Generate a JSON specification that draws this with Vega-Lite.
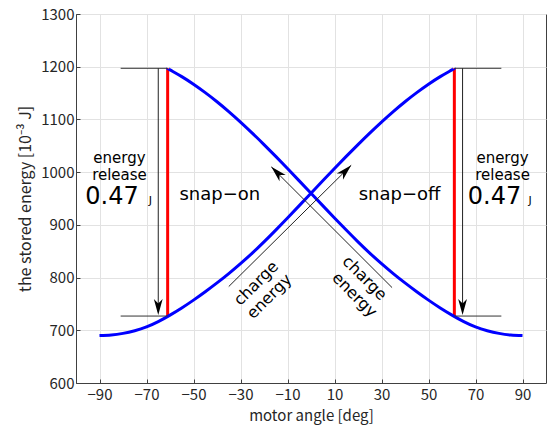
{
  "$schema": "https://vega.github.io/schema/vega-lite/v6.json",
  "width": 470,
  "height": 369,
  "autosize": {"type": "none"},
  "padding": {"left": 76, "top": 14, "right": 1, "bottom": 47},
  "background": "white",
  "datasets": {
    "curves": [
      {"curve": "rise", "angle": -90, "energy": 690},
      {"curve": "rise", "angle": -85, "energy": 691},
      {"curve": "rise", "angle": -80, "energy": 694.1},
      {"curve": "rise", "angle": -75, "energy": 699.2},
      {"curve": "rise", "angle": -70, "energy": 706.3},
      {"curve": "rise", "angle": -65, "energy": 716.3},
      {"curve": "rise", "angle": -60, "energy": 728.7},
      {"curve": "rise", "angle": -55, "energy": 742.3},
      {"curve": "rise", "angle": -50, "energy": 757.2},
      {"curve": "rise", "angle": -45, "energy": 773.1},
      {"curve": "rise", "angle": -40, "energy": 789.9},
      {"curve": "rise", "angle": -35, "energy": 807.6},
      {"curve": "rise", "angle": -30, "energy": 826.5},
      {"curve": "rise", "angle": -25, "energy": 846.4},
      {"curve": "rise", "angle": -20, "energy": 867.7},
      {"curve": "rise", "angle": -15, "energy": 890.1},
      {"curve": "rise", "angle": -10, "energy": 913.1},
      {"curve": "rise", "angle": -5, "energy": 936.5},
      {"curve": "rise", "angle": 0, "energy": 960},
      {"curve": "rise", "angle": 5, "energy": 983.5},
      {"curve": "rise", "angle": 10, "energy": 1006.9},
      {"curve": "rise", "angle": 15, "energy": 1029.9},
      {"curve": "rise", "angle": 20, "energy": 1052.3},
      {"curve": "rise", "angle": 25, "energy": 1074.1},
      {"curve": "rise", "angle": 30, "energy": 1095},
      {"curve": "rise", "angle": 35, "energy": 1114.9},
      {"curve": "rise", "angle": 40, "energy": 1133.6},
      {"curve": "rise", "angle": 45, "energy": 1150.9},
      {"curve": "rise", "angle": 50, "energy": 1166.8},
      {"curve": "rise", "angle": 55, "energy": 1181.2},
      {"curve": "rise", "angle": 60, "energy": 1194},
      {"curve": "rise", "angle": 61, "energy": 1197},
      {"curve": "fall", "angle": -61, "energy": 1197},
      {"curve": "fall", "angle": -60, "energy": 1194},
      {"curve": "fall", "angle": -55, "energy": 1181.2},
      {"curve": "fall", "angle": -50, "energy": 1166.8},
      {"curve": "fall", "angle": -45, "energy": 1150.9},
      {"curve": "fall", "angle": -40, "energy": 1133.6},
      {"curve": "fall", "angle": -35, "energy": 1114.9},
      {"curve": "fall", "angle": -30, "energy": 1095},
      {"curve": "fall", "angle": -25, "energy": 1074.1},
      {"curve": "fall", "angle": -20, "energy": 1052.3},
      {"curve": "fall", "angle": -15, "energy": 1029.9},
      {"curve": "fall", "angle": -10, "energy": 1006.9},
      {"curve": "fall", "angle": -5, "energy": 983.5},
      {"curve": "fall", "angle": 0, "energy": 960},
      {"curve": "fall", "angle": 5, "energy": 936.5},
      {"curve": "fall", "angle": 10, "energy": 913.1},
      {"curve": "fall", "angle": 15, "energy": 890.1},
      {"curve": "fall", "angle": 20, "energy": 867.7},
      {"curve": "fall", "angle": 25, "energy": 846.4},
      {"curve": "fall", "angle": 30, "energy": 826.5},
      {"curve": "fall", "angle": 35, "energy": 807.6},
      {"curve": "fall", "angle": 40, "energy": 789.9},
      {"curve": "fall", "angle": 45, "energy": 773.1},
      {"curve": "fall", "angle": 50, "energy": 757.2},
      {"curve": "fall", "angle": 55, "energy": 742.3},
      {"curve": "fall", "angle": 60, "energy": 728.7},
      {"curve": "fall", "angle": 65, "energy": 716.3},
      {"curve": "fall", "angle": 70, "energy": 706.3},
      {"curve": "fall", "angle": 75, "energy": 699.2},
      {"curve": "fall", "angle": 80, "energy": 694.1},
      {"curve": "fall", "angle": 85, "energy": 691},
      {"curve": "fall", "angle": 90, "energy": 690}
    ],
    "releases": [
      {"angle": -61, "lo": 727, "hi": 1197},
      {"angle": 61, "lo": 727, "hi": 1197}
    ],
    "levels": [
      {"from": -81, "to": -61, "level": 1197},
      {"from": -81, "to": -61, "level": 727},
      {"from": 61, "to": 81, "level": 1197},
      {"from": 61, "to": 81, "level": 727}
    ],
    "shafts": [
      {"x": -65, "y": 1197, "x2": -65, "y2": 735},
      {"x": 64.5, "y": 1197, "x2": 64.5, "y2": 735},
      {"x": -35, "y": 783, "x2": 17.1, "y2": 1013},
      {"x": 34.5, "y": 781, "x2": -16.9, "y2": 1010}
    ],
    "heads": [
      {"x": -65, "y": 729, "dir": 180},
      {"x": 64.5, "y": 729, "dir": 180},
      {"x": 17.1, "y": 1013, "dir": 45},
      {"x": -16.9, "y": 1010, "dir": -45}
    ],
    "labels": [
      {"x": -81.5, "y": 1017, "text": "energy", "size": 15},
      {"x": -81.5, "y": 986, "text": "release", "size": 15},
      {"x": -84.7, "y": 940, "text": "0.47", "size": 24},
      {"x": 81.5, "y": 1017, "text": "energy", "size": 15},
      {"x": 81.5, "y": 986, "text": "release", "size": 15},
      {"x": 78.1, "y": 940, "text": "0.47", "size": 24},
      {"x": -38.8, "y": 947, "text": "snap−on", "size": 18},
      {"x": 37.7, "y": 947, "text": "snap−off", "size": 18}
    ],
    "units": [
      {"x": -69, "y": 940, "text": "J"},
      {"x": 92.5, "y": 940, "text": "J"}
    ],
    "slanted": [
      {"x": -23.3, "y": 789, "text": "charge", "tilt": -45},
      {"x": -17.7, "y": 764, "text": "energy", "tilt": -45},
      {"x": 22.8, "y": 799, "text": "charge", "tilt": 45},
      {"x": 18.5, "y": 767, "text": "energy", "tilt": 45}
    ]
  },
  "layer": [
    {
      "data": {"name": "releases"},
      "mark": {"type": "rule", "color": "#ff0000", "strokeWidth": 3},
      "encoding": {
        "x": {
          "field": "angle", "type": "quantitative",
          "scale": {"domain": [-100, 100], "nice": false, "zero": false},
          "axis": {
            "orient": "bottom",
            "title": "motor angle [deg]",
            "values": [-90, -70, -50, -30, -10, 10, 30, 50, 70, 90],
            "format": "d",
            "grid": true,
            "labelPadding": 8,
            "titlePadding": 6
          }
        },
        "y": {
          "field": "lo", "type": "quantitative",
          "scale": {"domain": [600, 1300], "nice": false, "zero": false},
          "axis": {
            "orient": "left",
            "title": "the stored energy [10⁻³ J]",
            "titleFontSize": 16,
            "values": [600, 700, 800, 900, 1000, 1100, 1200, 1300],
            "format": "d",
            "grid": true,
            "labelPadding": 6,
            "titlePadding": 7
          }
        },
        "y2": {"field": "hi"}
      }
    },
    {
      "data": {"name": "curves"},
      "mark": {"type": "line", "color": "#0000ff", "strokeWidth": 3, "interpolate": "natural"},
      "encoding": {
        "x": {"field": "angle", "type": "quantitative"},
        "y": {"field": "energy", "type": "quantitative"},
        "detail": {"field": "curve"}
      }
    },
    {
      "data": {"name": "levels"},
      "mark": {"type": "rule", "color": "#333333", "strokeWidth": 1},
      "encoding": {
        "x": {"field": "from", "type": "quantitative"},
        "x2": {"field": "to"},
        "y": {"field": "level", "type": "quantitative"}
      }
    },
    {
      "data": {"name": "shafts"},
      "mark": {"type": "rule", "color": "#222222", "strokeWidth": 1},
      "encoding": {
        "x": {"field": "x", "type": "quantitative"},
        "y": {"field": "y", "type": "quantitative"},
        "x2": {"field": "x2"},
        "y2": {"field": "y2"}
      }
    },
    {
      "data": {"name": "heads"},
      "mark": {
        "type": "point",
        "shape": "M0,0 L0.55,2 L0,1.45 L-0.55,2 Z",
        "filled": true,
        "color": "#000000",
        "opacity": 1,
        "size": 256,
        "strokeWidth": 0
      },
      "encoding": {
        "x": {"field": "x", "type": "quantitative"},
        "y": {"field": "y", "type": "quantitative"},
        "angle": {"field": "dir", "type": "quantitative", "scale": null}
      }
    },
    {
      "data": {"name": "labels"},
      "mark": {"type": "text", "font": "DejaVu Sans", "align": "center", "baseline": "alphabetic", "color": "#000000"},
      "encoding": {
        "x": {"field": "x", "type": "quantitative"},
        "y": {"field": "y", "type": "quantitative"},
        "text": {"field": "text"},
        "size": {"field": "size", "type": "quantitative", "scale": null}
      }
    },
    {
      "data": {"name": "units"},
      "mark": {"type": "text", "font": "DejaVu Sans", "align": "left", "baseline": "alphabetic", "fontSize": 11, "color": "#000000"},
      "encoding": {
        "x": {"field": "x", "type": "quantitative"},
        "y": {"field": "y", "type": "quantitative"},
        "text": {"field": "text"}
      }
    },
    {
      "data": {"name": "slanted"},
      "mark": {"type": "text", "font": "DejaVu Sans", "align": "center", "baseline": "middle", "fontSize": 16, "color": "#000000"},
      "encoding": {
        "x": {"field": "x", "type": "quantitative"},
        "y": {"field": "y", "type": "quantitative"},
        "text": {"field": "text"},
        "angle": {"field": "tilt", "type": "quantitative", "scale": null}
      }
    }
  ],
  "config": {
    "view": {"stroke": "#404040", "strokeWidth": 1},
    "axis": {
      "labelFont": "Noto Sans CJK JP",
      "titleFont": "Noto Sans CJK JP",
      "labelFontSize": 15,
      "titleFontSize": 15,
      "titleFontWeight": "normal",
      "labelColor": "#262626",
      "titleColor": "#262626",
      "domainColor": "#404040",
      "tickColor": "#404040",
      "tickSize": -4,
      "gridColor": "#e2e2e2",
      "gridWidth": 1
    }
  }
}
